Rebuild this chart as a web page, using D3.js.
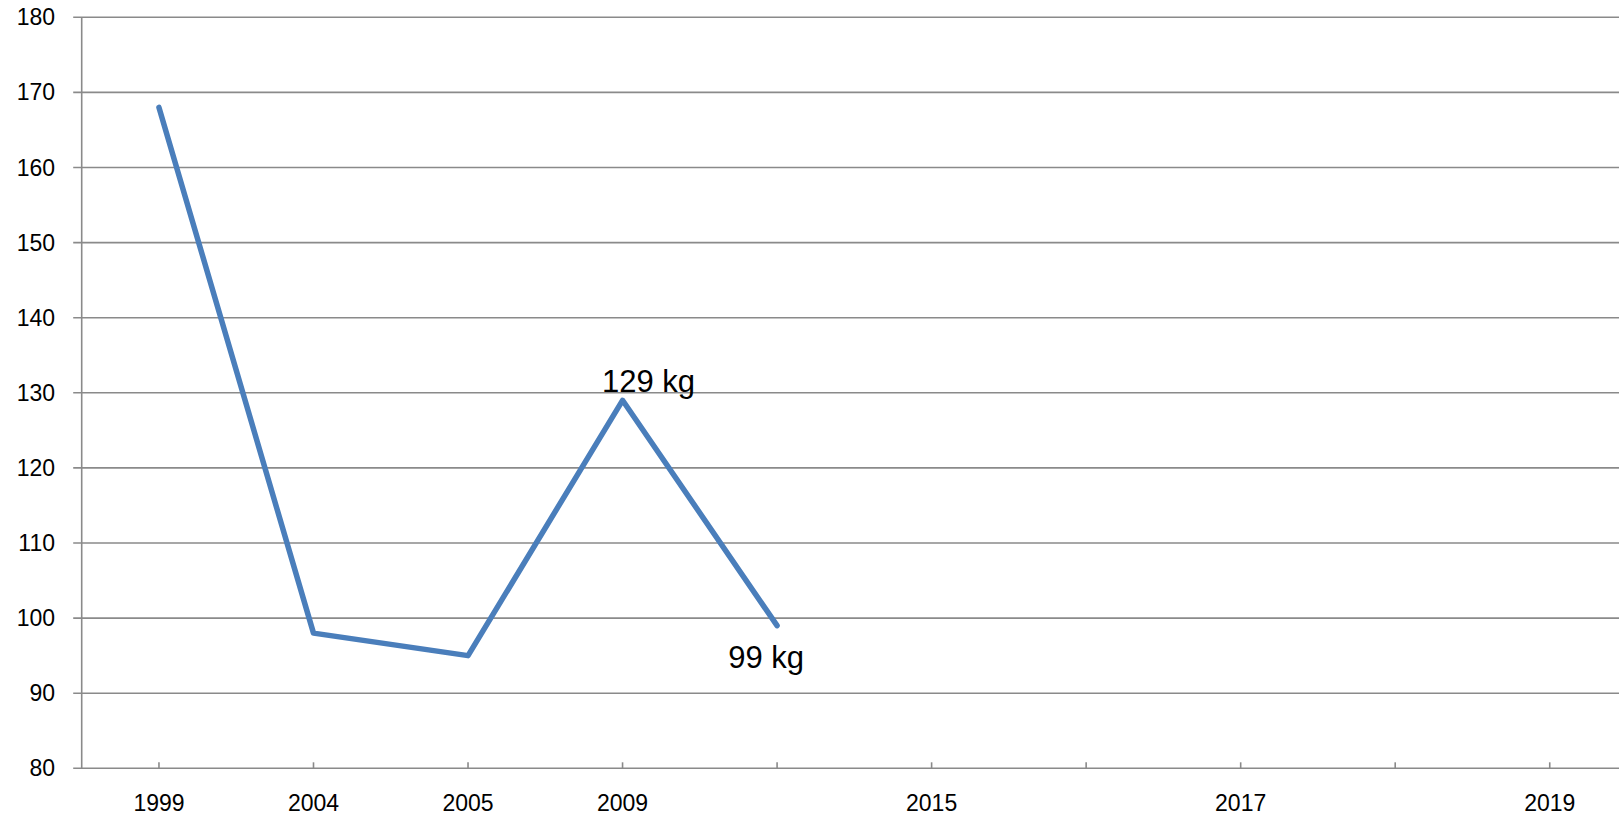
<!DOCTYPE html>
<html>
<head>
<meta charset="utf-8">
<script src="https://cdn.jsdelivr.net/npm/d3@7"></script>
<style>
html,body{margin:0;padding:0;background:#fff;overflow:hidden;}
svg{display:block;}
</style>
</head>
<body>
<svg id="chart" width="1619" height="819"></svg>
<script>
// Data
const categories = ["1999","2004","2005","2009","","2015","","2017","","2019"];
const values = [168, 98, 95, 129, 99, null, null, null, null, null];
const dataLabels = ["", "", "", "129 kg", "99 kg", "", "", "", "", ""];
const yTicks = [80, 90, 100, 110, 120, 130, 140, 150, 160, 170, 180];

(function () {
const svg = d3.select("#chart");
const mLeft = 81.7, mRight = 1627, mTop = 17.3, mBottom = 768.3;
const gridColor = "#8a8a8a";

const x = d3.scalePoint()
  .domain(categories.map((d, i) => i))
  .range([mLeft, mRight])
  .padding(0.5);
const y = d3.scaleLinear().domain([80, 180]).range([mBottom, mTop]);

// Horizontal gridlines
svg.append("g").selectAll("line").data(yTicks).join("line")
  .attr("x1", mLeft - 8.5).attr("x2", 1619)
  .attr("y1", d => y(d)).attr("y2", d => y(d))
  .attr("stroke", gridColor).attr("stroke-width", 1.6);

// Y axis line
svg.append("line")
  .attr("x1", mLeft).attr("x2", mLeft)
  .attr("y1", mTop).attr("y2", mBottom)
  .attr("stroke", gridColor).attr("stroke-width", 1.6);

// Y tick labels
svg.append("g").selectAll("text").data(yTicks).join("text")
  .attr("x", 55).attr("y", d => y(d))
  .attr("text-anchor", "end").attr("dominant-baseline", "central")
  .attr("font-family", "Liberation Sans, Arial, sans-serif")
  .attr("font-size", 23).attr("fill", "#000")
  .text(d => d);

// X ticks (inside, upward)
svg.append("g").selectAll("line").data(categories.map((d, i) => i)).join("line")
  .attr("x1", d => x(d)).attr("x2", d => x(d))
  .attr("y1", mBottom).attr("y2", mBottom - 6)
  .attr("stroke", gridColor).attr("stroke-width", 1.6);

// X labels
svg.append("g").selectAll("text").data(categories.map((d, i) => i)).join("text")
  .attr("x", d => x(d)).attr("y", 810.5)
  .attr("text-anchor", "middle")
  .attr("font-family", "Liberation Sans, Arial, sans-serif")
  .attr("font-size", 23).attr("fill", "#000")
  .text(d => categories[d]);

// Line
const pts = values.map((v, i) => ({i, v})).filter(d => d.v !== null);
const line = d3.line().x(d => x(d.i)).y(d => y(d.v));
svg.append("path").datum(pts)
  .attr("d", line)
  .attr("fill", "none")
  .attr("stroke", "#4a7ebb")
  .attr("stroke-width", 5.5)
  .attr("stroke-linejoin", "round")
  .attr("stroke-linecap", "round");

// Data labels
const labelOffsets = {3: [26, -8.5], 4: [-11, 42.5]};
svg.append("g").selectAll("text")
  .data(pts.filter(d => dataLabels[d.i] !== ""))
  .join("text")
  .attr("x", d => x(d.i) + labelOffsets[d.i][0])
  .attr("y", d => y(d.v) + labelOffsets[d.i][1])
  .attr("text-anchor", "middle")
  .attr("font-family", "Liberation Sans, Arial, sans-serif")
  .attr("font-size", 31).attr("fill", "#000")
  .text(d => dataLabels[d.i]);
})();
</script>
</body>
</html>
